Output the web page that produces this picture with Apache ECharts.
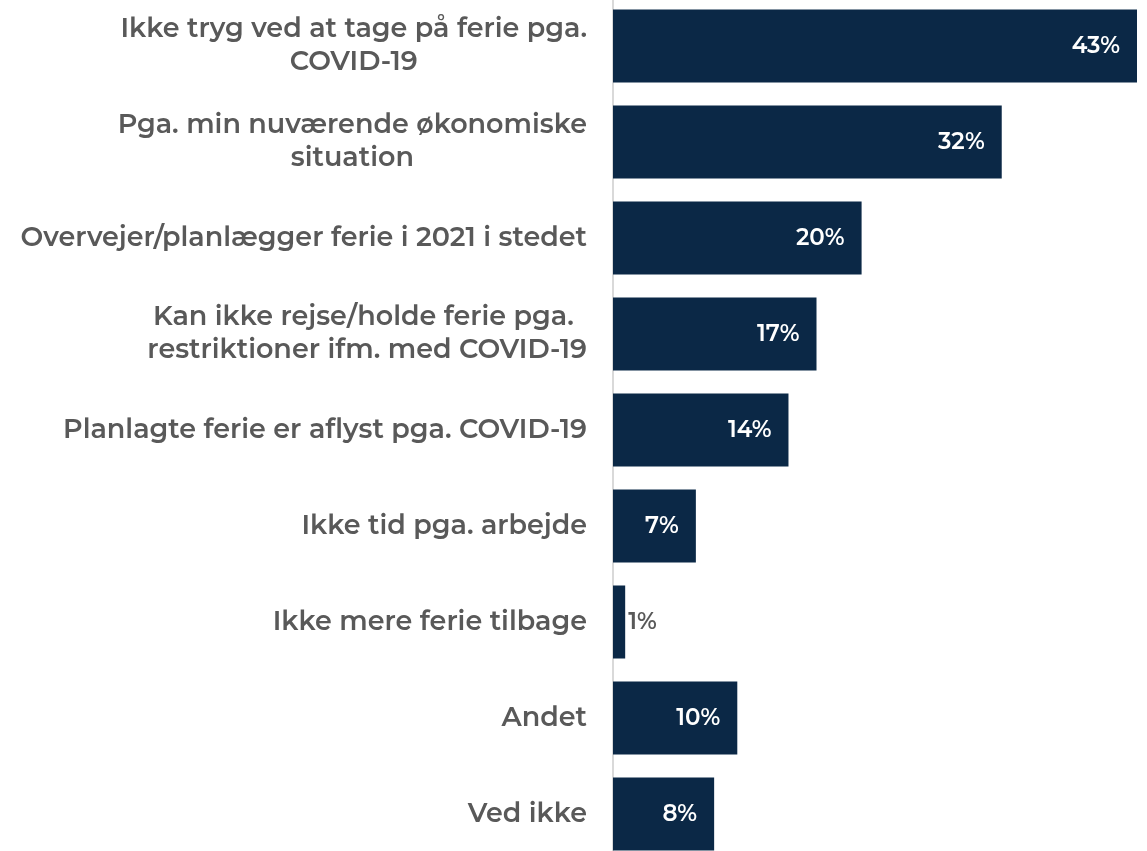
<!DOCTYPE html>
<html>
<head>
<meta charset="utf-8">
<script src="https://cdn.jsdelivr.net/npm/echarts@6/dist/echarts.min.js"></script>
<style>
  html, body { margin: 0; padding: 0; background: #fff; }
  #chart { width: 1147px; height: 851px; }
</style>
</head>
<body>
<div id="chart"></div>
<script>
// kategorier (oppefra og ned)
const categories = [
  "Ikke tryg ved at tage på ferie pga.\nCOVID-19",
  "Pga. min nuværende økonomiske\nsituation",
  "Overvejer/planlægger ferie i 2021 i stedet",
  "Kan ikke rejse/holde ferie pga. \nrestriktioner ifm. med COVID-19",
  "Planlagte ferie er aflyst pga. COVID-19",
  "Ikke tid pga. arbejde",
  "Ikke mere ferie tilbage",
  "Andet",
  "Ved ikke"
];
// andele i procent
const values = [43, 31.9, 20.4, 16.7, 14.4, 6.8, 1.0, 10.2, 8.3];

const chart = echarts.init(document.getElementById("chart"));
const fontFamily = "Montserrat, 'Open Sans', 'Noto Sans', sans-serif";

const option = {
  animation: false,
  grid: {
    left: 613,
    right: 10,
    top: -2,
    height: 864,
    containLabel: false,
    outerBoundsMode: "none"
  },
  xAxis: {
    type: "value",
    min: 0,
    max: 43,
    show: false
  },
  yAxis: {
    type: "category",
    inverse: true,
    data: categories,
    axisLine: { show: true, lineStyle: { color: "#d9d9d9", width: 2 } },
    axisTick: { show: false },
    axisLabel: {
      margin: 26,
      align: "right",
      // hver linje centreres inden for etiketten
      formatter: (v) => v.split("\n").map((l) => "{c|" + l + "}").join("\n"),
      rich: {
        c: {
          align: "center",
          color: "#595959",
          fontFamily: fontFamily,
          fontWeight: 600,
          fontSize: 27,
          lineHeight: 33
        }
      }
    }
  },
  series: [
    {
      type: "bar",
      data: values.map((v) => ({
        value: v,
        label: v < 3 ? { position: "right", distance: 3, color: "#595959" } : {}
      })),
      barWidth: 73,
      itemStyle: { color: "#0b2846" },
      label: {
        show: true,
        position: "insideRight",
        distance: 17,
        color: "#ffffff",
        fontFamily: fontFamily,
        fontWeight: 600,
        fontSize: 23,
        formatter: (p) => Math.round(p.value) + "%"
      }
    }
  ]
};
chart.setOption(option);
</script>
</body>
</html>
